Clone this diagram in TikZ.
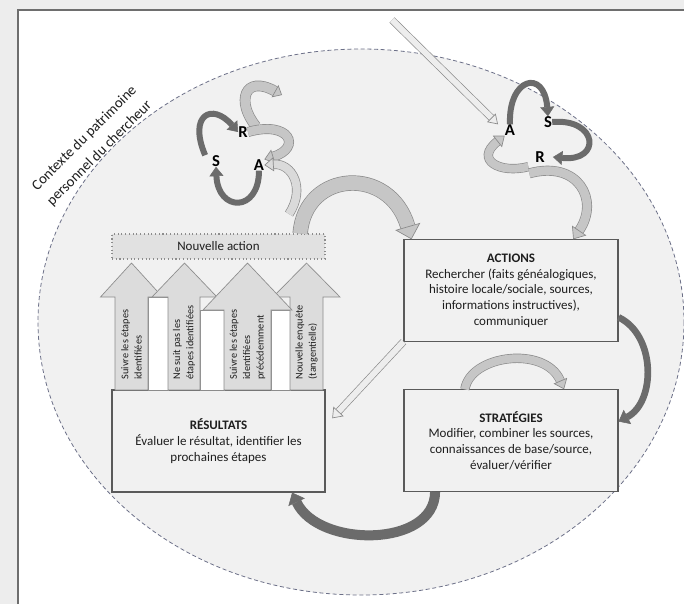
\documentclass[tikz,border=0pt]{standalone}
\usepackage{fontspec}
\setmainfont{Carlito}
\usetikzlibrary{arrows.meta}

\definecolor{pagebg}{HTML}{EDEDED}
\definecolor{frameline}{HTML}{6E6E6E}
\definecolor{ovalfill}{HTML}{F1F1F1}
\definecolor{ovalline}{HTML}{6C7088}
\definecolor{boxline}{HTML}{5A5A5A}
\definecolor{boxfill}{HTML}{F1F1F1}
\definecolor{actfill}{HTML}{E1E1E1}
\definecolor{uparrfill}{HTML}{DCDCDC}
\definecolor{uparrline}{HTML}{8C8C8C}
\definecolor{arcdark}{HTML}{6B6B6B}
\definecolor{bandline}{HTML}{8A8A8A}
\definecolor{bandmid}{HTML}{C6C6C6}
\definecolor{bandlight}{HTML}{DADADA}
\definecolor{bandpale}{HTML}{EDEDED}
\definecolor{inktext}{HTML}{1E1E1E}

\begin{document}
\begin{tikzpicture}[
    x=0.75pt, y=-0.75pt,
    box/.style={draw=boxline, fill=boxfill, line width=0.8pt, minimum width=160.5pt, minimum height=76pt,
        align=center, text=inktext, font=\fontsize{9.75}{11.75}\selectfont},
    letter/.style={inner sep=0pt, text=black, font=\bfseries\fontsize{12.5}{13}\selectfont},
    arrowtext/.style={rotate=90, anchor=west, align=left, inner sep=1pt, text=inktext,
        font=\fontsize{7.7}{10}\selectfont},
    uparr/.style={draw=uparrline, fill=uparrfill, line width=0.5pt},
    darkarc/.style n args={3}{draw=arcdark, line width=#1,
        -{Triangle[width=#2, length=#3, line width=0.4pt]}},
    lightarc/.style n args={4}{draw=#4, line width=#1,
        -{Triangle[width=#2, length=#3, line width=0.5pt, color=bandline, fill=#4]},
        preaction={draw=bandline, arrows=-, line width=#1+1pt, shorten >=#3}}
]

    \useasboundingbox (0,0) rectangle (684,604);
    \fill[pagebg] (0,0) rectangle (684,604);
    \fill[white] (18,10) rectangle (684,604);
    \draw[frameline, line width=1.5pt] (18,604) -- (18,10) -- (684,10);

    % context
    \filldraw[fill=ovalfill, draw=ovalline, line width=0.6pt, dash pattern=on 3pt off 2pt]
        (361,322) ellipse [x radius=323, y radius=273];
    \node[rotate=45, align=center, text=inktext, font=\fontsize{11}{16}\selectfont] (context)
        at (92,146) {Contexte du patrimoine\\personnel du chercheur};

    % boxes
    \node[box] (actions) at (511,290.5) {\textbf{ACTIONS}\\Rechercher (faits généalogiques,\\histoire locale/sociale, sources,\\informations instructives),\\communiquer};
    \node[box] (strategies) at (511,440.5) {\textbf{STRATÉGIES}\\Modifier, combiner les sources,\\connaissances de base/source,\\évaluer/vérifier};
    \node[box, minimum width=159.75pt, minimum height=76.5pt] (results) at (218.5,441) {\textbf{RÉSULTATS}\\Évaluer le résultat, identifier les\\prochaines étapes};
    \node[box, fill=actfill, draw=uparrline, dotted, minimum width=159.75pt, minimum height=18.75pt] (newaction) at (218.5,246.5) {Nouvelle action};

    % up arrows
    \foreach \gl/\gr/\gt in {148/168/297, 200/224/310, 271/290/310}
        \filldraw[draw=uparrline, fill=white, line width=0.5pt] (\gl,\gt) rectangle (\gr,390);
    \foreach \sl/\sr/\hl/\hr/\hb/\tx in {115/148/100.5/162.5/297/131.5, 168/200/152/217/297/184.5,
                                        290/323/273/340/297/306.5, 224/271/203/292/310/247.5}
        \filldraw[uparr] (\sl,390) -- (\sl,\hb) -- (\hl,\hb) -- (\tx,263) -- (\hr,\hb) -- (\sr,\hb) -- (\sr,390) -- cycle;

    \node[arrowtext] (lbl1) at (131.5,381) {Suivre les étapes\\identifiées};
    \node[arrowtext] (lbl2) at (184,381) {Ne suit pas les\\étapes identifiées};
    \node[arrowtext] (lbl3) at (247.5,381) {Suivre les étapes\\identifiées\\précédemment};
    \node[arrowtext] (lbl4) at (306.5,381) {Nouvelle enquête\\(tangentielle)};

    % cycles
    \node[letter] (R1) at (243,132) {R};
    \node[letter] (S1) at (216,161) {S};
    \node[letter] (A1) at (259,165) {A};
    \node[letter] (A2) at (510,130) {A};
    \node[letter] (S2) at (548,122) {S};
    \node[letter] (R2) at (540,157) {R};

    \coordinate (curlend) at (282,95);
    \coordinate (riseA) at (289,214);
    \coordinate (entry) at (392,20);

    \draw[darkarc={4.5pt}{10.5pt}{7pt}] ([xshift=-5pt]S1.north west) .. controls (188,115) and (212,102) .. (R1.west);
    \draw[darkarc={4.5pt}{10.5pt}{7pt}] (A1.south) .. controls (259,213) and (218,212) .. (S1.south);
    \draw[lightarc={7pt}{10.5pt}{6pt}{bandmid}] ([xshift=6pt]R1.north east) .. controls (236,102) and (244,74) .. (curlend);
    \draw[lightarc={6.5pt}{11pt}{7pt}{bandmid}] (R1.east) .. controls (290,120) and (302,148) .. (A1.north east);
    \draw[lightarc={6pt}{10.5pt}{7pt}{bandlight}] (riseA) .. controls (306,188) and (292,163) .. (A1.east);
    \draw[lightarc={10.5pt}{19.5pt}{10pt}{bandmid}] ([xshift=-19pt]newaction.north east) .. controls (305,170) and (390,165) .. ([xshift=6pt]actions.north west);

    \draw[darkarc={4.5pt}{10.5pt}{7pt}] (A2.north) .. controls (508,78) and (544,68) .. (S2.north);
    \draw[darkarc={4.5pt}{10.5pt}{7pt}] (S2.east) .. controls (598,118) and (602,162) .. ([xshift=6pt]R2.east);
    \draw[lightarc={6pt}{11pt}{7pt}{bandmid}] ([xshift=-5pt,yshift=-3pt]R2.south west) .. controls (500,174) and (474,160) .. (A2.south west);
    \draw[lightarc={6.5pt}{13pt}{8pt}{bandmid}] ([xshift=-8pt,yshift=-8pt]R2.south) .. controls (578,160) and (600,200) .. ([xshift=-34pt]actions.north east);
    \draw[lightarc={4.5pt}{9pt}{7pt}{bandpale}] (entry) -- ([xshift=-5pt]A2.north west);

    % between boxes
    \draw[darkarc={5pt}{12pt}{7.5pt}] (actions.346) .. controls (656,335) and (656,402) .. (strategies.10);
    \draw[lightarc={6pt}{11pt}{7pt}{bandmid}] (strategies.132) .. controls (470,355) and (545,345) .. (strategies.44);
    \draw[darkarc={7.5pt}{13.5pt}{8pt}] (strategies.214) .. controls (435,548) and (318,548) .. (results.325);
    \draw[lightarc={4.5pt}{10.5pt}{7pt}{bandpale}] (actions.south west) -- ([xshift=5pt]results.12);

\end{tikzpicture}
\end{document}
